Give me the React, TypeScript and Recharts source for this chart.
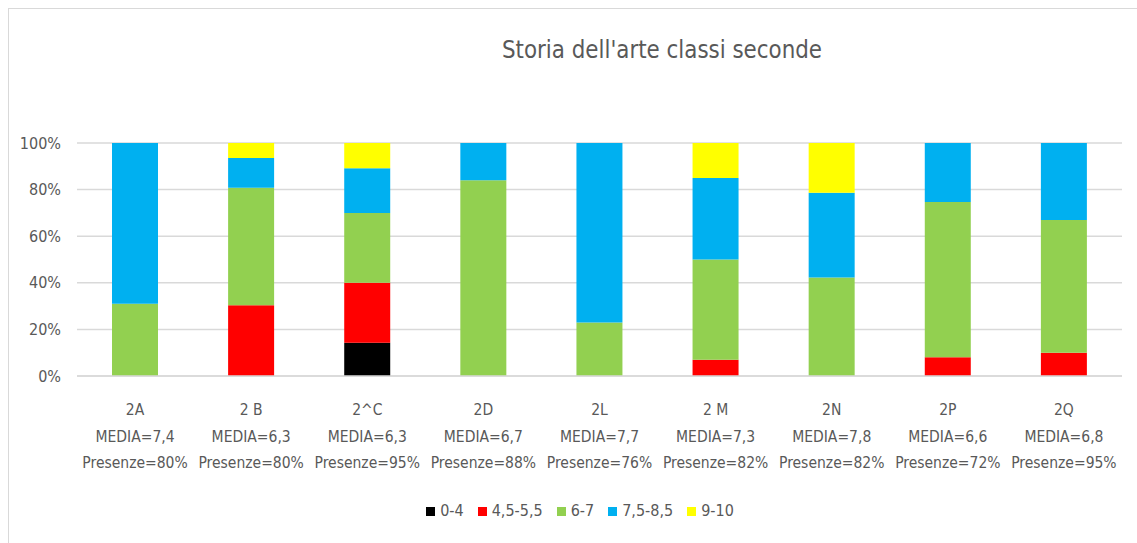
import React from "react";
import { Bar, BarChart, CartesianGrid, XAxis, YAxis } from "recharts";

const classi = ["2A", "2 B", "2^C", "2D", "2L", "2 M", "2N", "2P", "2Q"];
const medie = ["7,4", "6,3", "6,3", "6,7", "7,7", "7,3", "7,8", "6,6", "6,8"];
const presenze = ["80%", "80%", "95%", "88%", "76%", "82%", "82%", "72%", "95%"];

// percentuali per fascia di voto
const voti04 = [0, 0, 14.3, 0, 0, 0, 0, 0, 0];
const voti4555 = [0, 30.4, 25.7, 0, 0, 7, 0, 8, 10];
const voti67 = [31, 50.4, 30, 84, 23, 43, 42.3, 66.7, 57];
const voti7585 = [69, 12.8, 19.2, 16, 77, 35, 36.3, 25.3, 33];
const voti910 = [0, 6.4, 10.8, 0, 0, 15, 21.4, 0, 0];

const yTicks = [0, 20, 40, 60, 80, 100];

const series = [
  { key: "v04", name: "0-4", color: "#000000", values: voti04 },
  { key: "v4555", name: "4,5-5,5", color: "#FF0000", values: voti4555 },
  { key: "v67", name: "6-7", color: "#92D050", values: voti67 },
  { key: "v7585", name: "7,5-8,5", color: "#00B0F0", values: voti7585 },
  { key: "v910", name: "9-10", color: "#FFFF00", values: voti910 },
];

const data = classi.map((c, i) => {
  const row: Record<string, string | number> = { classe: c };
  series.forEach((s) => (row[s.key] = s.values[i]));
  return row;
});

const FONT = "'Liberation Sans Narrow', 'DejaVu Sans Condensed', 'Open Sans', sans-serif";
const TEXT = "#595959";

function ClassTick(props: any) {
  const { x, y, payload } = props;
  const i = payload.index;
  return (
    <text x={x} y={y} textAnchor="middle" fill={TEXT} fontSize={15.5} fontFamily={FONT}>
      <tspan x={x} dy={31}>{classi[i]}</tspan>
      <tspan x={x} dy={27}>MEDIA={medie[i]}</tspan>
      <tspan x={x} dy={26}>Presenze={presenze[i]}</tspan>
    </text>
  );
}

export default function App() {
  return (
    <div style={{ position: "absolute", left: 0, top: 0, width: 1137, height: 543, background: "#fff" }}>
      <svg width={1137} height={543} style={{ position: "absolute", left: 0, top: 0 }}>
        <rect x={8.5} y={8.5} width={1140} height={545} fill="none" stroke="#d9d9d9" />
        <text
          x={662}
          y={58}
          textAnchor="middle"
          fill={TEXT}
          fontSize={25}
          fontFamily={FONT}
          textLength={320}
          lengthAdjust="spacingAndGlyphs"
        >
          Storia dell'arte classi seconde
        </text>
      </svg>
      <div style={{ position: "absolute", left: 0, top: 0 }}>
        <BarChart
          width={1137}
          height={543}
          data={data}
          margin={{ top: 143, right: 15, bottom: 67, left: 0 }}
          barSize={46}
        >
          <CartesianGrid stroke="#d9d9d9" strokeWidth={1.5} vertical={false} />
          <XAxis
            dataKey="classe"
            tick={<ClassTick />}
            tickLine={false}
            axisLine={{ stroke: "#d9d9d9", strokeWidth: 1.5 }}
            interval={0}
            height={100}
          />
          <YAxis
            domain={[0, 100]}
            ticks={yTicks}
            tickFormatter={(v: number) => `${v}%`}
            tick={{ fill: TEXT, fontSize: 16, fontFamily: FONT }}
            tickLine={false}
            axisLine={false}
            tickMargin={10}
            width={77}
          />
          {series.map((s) => (
            <Bar key={s.key} dataKey={s.key} name={s.name} stackId="a" fill={s.color} isAnimationActive={false} />
          ))}
        </BarChart>
      </div>
      <div
        style={{
          position: "absolute",
          top: 500,
          left: 0,
          width: 1160,
          display: "flex",
          justifyContent: "center",
          gap: 14,
          fontFamily: FONT,
          fontSize: 16,
          color: TEXT,
          lineHeight: "22px",
        }}
      >
        {series.map((s) => (
          <div key={s.key} style={{ display: "flex", alignItems: "center" }}>
            <span style={{ width: 9, height: 9, background: s.color, marginRight: 5, display: "inline-block" }} />
            {s.name}
          </div>
        ))}
      </div>
    </div>
  );
}
